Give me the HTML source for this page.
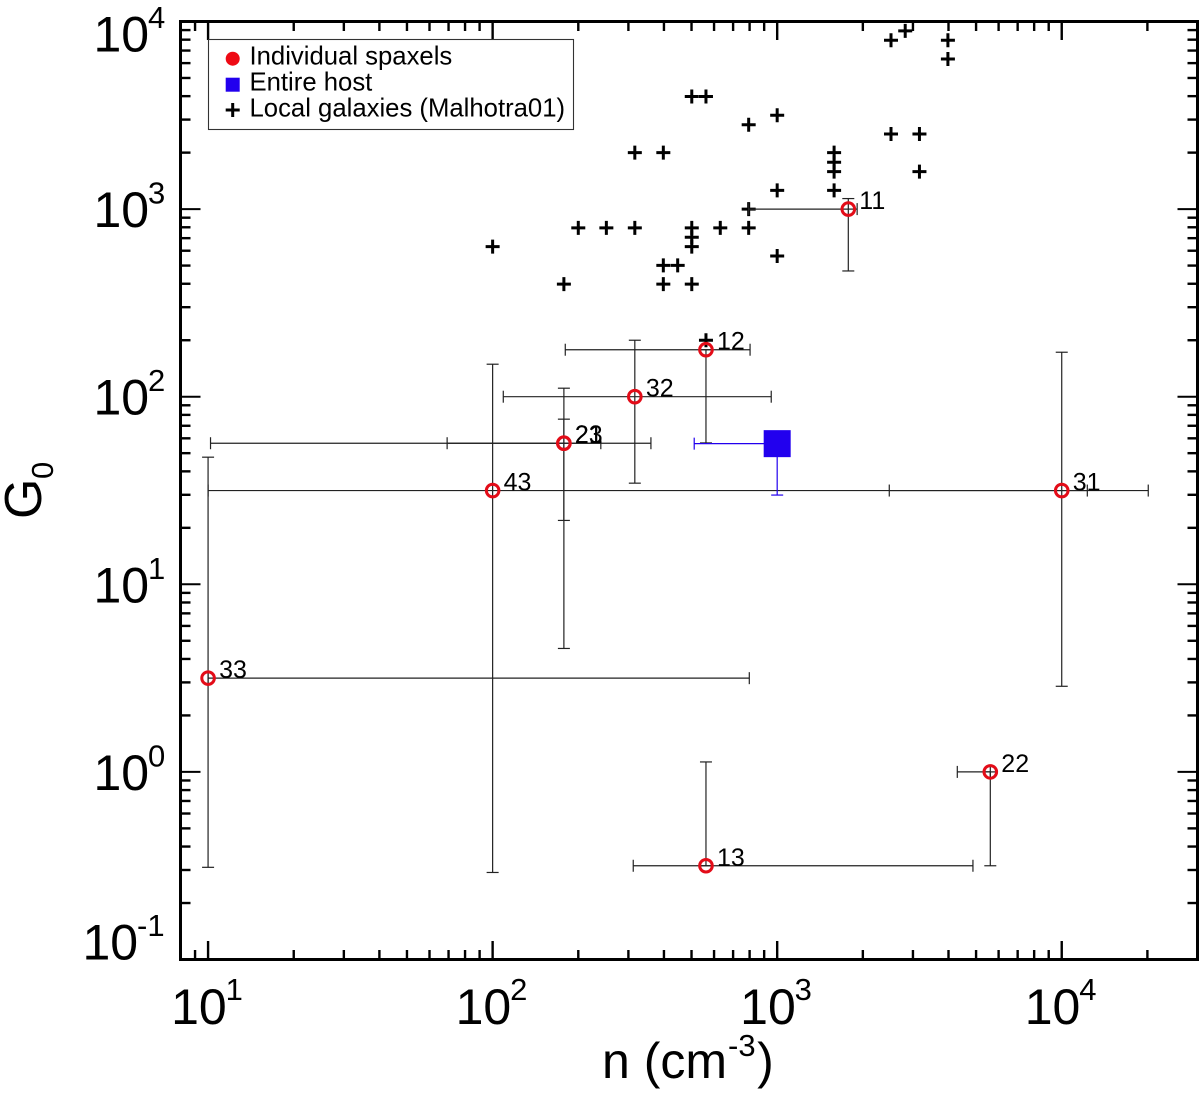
<!DOCTYPE html>
<html lang="en">
<head>
<meta charset="utf-8">
<title>G0 versus n diagram</title>
<style>
html,body{margin:0;padding:0;background:#fff;width:1200px;height:1094px;overflow:hidden}
svg{display:block}
text{font-family:"Liberation Sans",Arial,sans-serif;fill:#000}
</style>
</head>
<body>
<svg id="chart" xmlns="http://www.w3.org/2000/svg" width="1200" height="1094" viewBox="0 0 1200 1094">
  <rect x="0" y="0" width="1200" height="1094" fill="#fff"/>
  <g id="galaxies"></g>
  <g id="errors"></g>
  <g id="host"></g>
  <g id="spaxels"></g>
  <g id="labels"></g>
  <g id="axes"></g>
  <g id="ticklabels"></g>

  <text x="602" y="1078" font-size="50">n (cm<tspan font-size="31" dx="1" dy="-22">-3</tspan><tspan font-size="50" dx="1.5" dy="22">)</tspan></text>
  <text transform="translate(41,519) rotate(-90)" font-size="52">G</text>
  <text transform="translate(53,479) rotate(-90)" font-size="31">0</text>

  <g>
    <rect x="208.5" y="39.5" width="365" height="90" fill="#fff" stroke="#333" stroke-width="1.1"/>
    <circle cx="232.7" cy="58.7" r="7" fill="#ee0a14"/>
    <text x="249.5" y="64.5" font-size="25.7">Individual spaxels</text>
    <rect x="225.7" y="77.7" width="14" height="14" fill="#2200ee"/>
    <text x="249.5" y="90.7" font-size="25.7">Entire host</text>
    <path d="M225.7 110H239.7M232.7 103V117" stroke="#000" stroke-width="3" fill="none"/>
    <text x="249.5" y="116.7" font-size="25.7">Local galaxies (Malhotra01)</text>
  </g>
</svg>
<script>
// Chart data
const xTickExponents = [1, 2, 3, 4];
const yTickExponents = [-1, 0, 1, 2, 3, 4];
const minorMultipliers = [2, 3, 4, 5, 6, 7, 8, 9];

const localN = [100, 178, 200, 251, 316, 316, 398, 398, 398, 447, 501, 501, 501, 501, 501, 562, 631, 794, 794, 794, 1000, 1000, 1000, 1585, 1585, 1585, 1585, 2512, 3162, 3162, 2512, 2818, 3981, 3981, 562];
const localG = [631, 398, 794, 794, 794, 2000, 2000, 398, 501, 501, 398, 794, 708, 631, 3981, 3981, 794, 794, 1000, 2818, 3162, 1259, 562, 1259, 2000, 1778, 1585, 2512, 2512, 1585, 7943, 8913, 7943, 6310, 200];

const spaxelLabels = ["11", "12", "13", "21", "22", "23", "31", "32", "33", "43"];
const spaxelN      = [1778, 562, 562, 178, 5610, 178, 10000, 316, 10, 100];
const spaxelG      = [1000, 178, 0.316, 56.5, 1, 56.5, 31.6, 100, 3.16, 31.6];
const spaxelNLow   = [794, 180, 312, 69.2, 4295, 10.2, 2477, 109, 10, 10];
const spaxelNHigh  = [1910, 803, 4875, 240, 5610, 360, 20140, 953, 798, 12300];
const spaxelGLow   = [468, 56.7, 0.316, 21.9, 0.316, 4.55, 2.86, 34.6, 0.31, 0.291];
const spaxelGHigh  = [1138, 178, 1.13, 75.9, 1, 111, 172.6, 200, 47.6, 149];

const hostN = [1000];
const hostG = [56.2];
const hostNLow = [511];
const hostGLow = [29.9];

// Axis functions
const xMin = 8, xMax = 30000, yMin = 0.1, yMax = 10000;
const plotLeft = 180.5, plotRight = 1197.5, plotTop = 21.5, plotBottom = 959.5;
function xScale(v) {
  return plotLeft + (Math.log10(v) - Math.log10(xMin)) / (Math.log10(xMax) - Math.log10(xMin)) * (plotRight - plotLeft);
}
function yScale(v) {
  return plotBottom - (Math.log10(v) - Math.log10(yMin)) / (Math.log10(yMax) - Math.log10(yMin)) * (plotBottom - plotTop);
}

const NS = "http://www.w3.org/2000/svg";
function mk(tag, parent, attrs) {
  const el = document.createElementNS(NS, tag);
  for (const k in attrs) el.setAttribute(k, attrs[k]);
  parent.appendChild(el);
  return el;
}
function seg(parent, x1, y1, x2, y2, color, width) {
  return mk("line", parent, {x1: x1, y1: y1, x2: x2, y2: y2, stroke: color, "stroke-width": width});
}

const axesG = document.getElementById("axes");
const tickG = document.getElementById("ticklabels");
const galG = document.getElementById("galaxies");
const errG = document.getElementById("errors");
const hostGroup = document.getElementById("host");
const spaxG = document.getElementById("spaxels");
const labG = document.getElementById("labels");

// Frame
const frame = mk("rect", axesG, {x: plotLeft, y: plotTop, width: plotRight - plotLeft, height: plotBottom - plotTop, fill: "none", stroke: "#000", "stroke-width": 3});



// X ticks
function drawXTick(v, len, w, name) {
  const x = xScale(v);
  if (x < plotLeft || x > plotRight) return;
  const b = seg(axesG, x, plotBottom, x, plotBottom - len, "#000", w);
  
  
  const t = seg(axesG, x, plotTop, x, plotTop + len, "#000", w);
  
  
}
// Y ticks
function drawYTick(v, len, w, name) {
  const y = yScale(v);
  if (y < plotTop || y > plotBottom) return;
  const l = seg(axesG, plotLeft, y, plotLeft + len, y, "#000", w);
  
  
  const r = seg(axesG, plotRight, y, plotRight - len, y, "#000", w);
  
  
}
[0].concat(xTickExponents).forEach(function (e) {
  const decade = Math.pow(10, e);
  minorMultipliers.forEach(function (m) { drawXTick(m * decade, 9.5, 2.4, 'x-minor-tick'); });
});
xTickExponents.forEach(function (e) { drawXTick(Math.pow(10, e), 18.5, 2.4, 'x-major-tick'); });
yTickExponents.forEach(function (e) {
  const decade = Math.pow(10, e);
  minorMultipliers.forEach(function (m) { drawYTick(m * decade, 10, 2.4, 'y-minor-tick'); });
});
yTickExponents.forEach(function (e) { drawYTick(Math.pow(10, e), 20, 2, 'y-major-tick'); });

// Tick labels
function drawPower(x, y, e, expDx, expDy, name) {
  const base = mk("text", tickG, {x: x, y: y, "font-size": 50});
  base.textContent = "10";
  
  
  const ex = mk("text", tickG, {x: x + expDx, y: y + expDy, "font-size": 31});
  ex.textContent = String(e);
  
  
}
xTickExponents.forEach(function (e) {
  drawPower(xScale(Math.pow(10, e)) - 37, 1024, e, 54.5, -24, 'x-tick-label');
});
yTickExponents.forEach(function (e) {
  const y = yScale(Math.pow(10, e));
  let baseline = y + 18;
  if (e === 4) baseline = y + 30;
  if (e === -1) baseline = y;
  const start = e < 0 ? 82.5 : 93.5;
  drawPower(start, baseline, e, 54.5, -23.5, 'y-tick-label');
});

// Local galaxies
localN.forEach(function (n, i) {
  const x = xScale(n), y = yScale(localG[i]);
  const p = mk("path", galG, {d: "M" + (x - 7) + " " + y + "H" + (x + 7) + "M" + x + " " + (y - 7) + "V" + (y + 7), stroke: "#000", "stroke-width": 3, fill: "none"});
  
  
});

// Error bars
const capHalf = 6;
function hBar(parent, x, y, xEnd, color) {
  seg(parent, x, y, xEnd, y, color, 1.2);
  seg(parent, xEnd, y - capHalf, xEnd, y + capHalf, color, 1.2);
}
function vBar(parent, x, y, yEnd, color) {
  seg(parent, x, y, x, yEnd, color, 1.2);
  seg(parent, x - capHalf, yEnd, x + capHalf, yEnd, color, 1.2);
}
spaxelN.forEach(function (n, i) {
  const x = xScale(n), y = yScale(spaxelG[i]);
  const g = mk("g", errG, {});
  
  
  const c = "#222";
  hBar(g, x, y, xScale(spaxelNLow[i]), c);
  hBar(g, x, y, xScale(spaxelNHigh[i]), c);
  vBar(g, x, y, yScale(spaxelGLow[i]), c);
  vBar(g, x, y, yScale(spaxelGHigh[i]), c);
});

// Entire host
hostN.forEach(function (n, i) {
  const x = xScale(n), y = yScale(hostG[i]);
  const g = mk("g", hostGroup, {});
  
  
  hBar(g, x, y, xScale(hostNLow[i]), "#2200ee");
  vBar(g, x, y, yScale(hostGLow[i]), "#2200ee");
  const s = mk("rect", hostGroup, {x: x - 13.5, y: y - 13.5, width: 27, height: 27, fill: "#2200ee"});
  
  
});

// Spaxels and labels
spaxelN.forEach(function (n, i) {
  const x = xScale(n), y = yScale(spaxelG[i]);
  const c = mk("circle", spaxG, {cx: x, cy: y, r: 6.3, fill: "none", stroke: "#e30c18", "stroke-width": 3});
  
  
  const t = mk("text", labG, {x: x + 11, y: y, "font-size": 25});
  t.textContent = spaxelLabels[i];
  
  
});
</script>
</body>
</html>
